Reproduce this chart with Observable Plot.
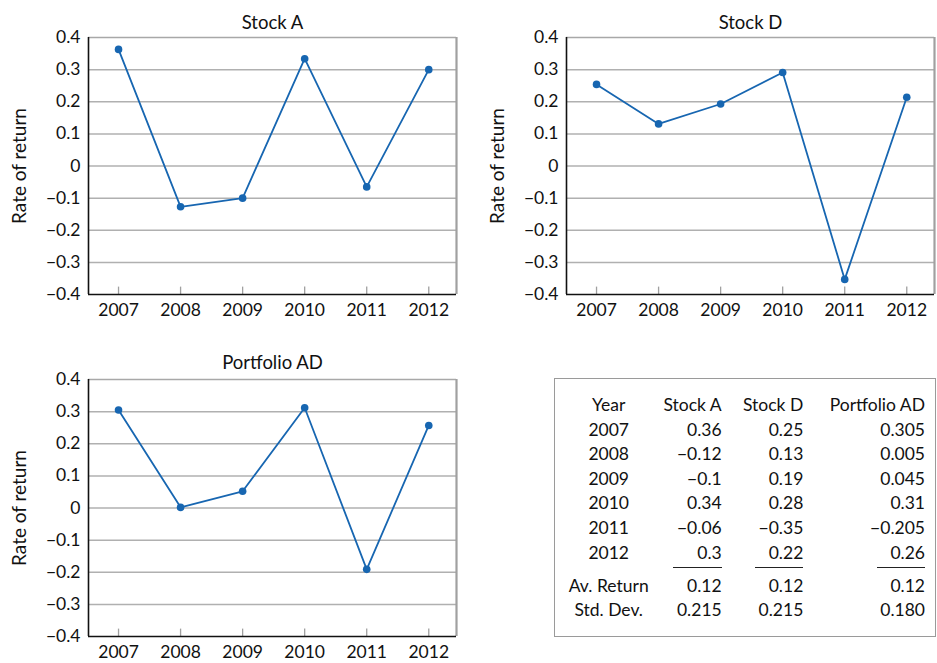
<!DOCTYPE html>
<html>
<head>
<meta charset="utf-8">
<script src="https://cdn.jsdelivr.net/npm/d3@7"></script>
<script src="https://cdn.jsdelivr.net/npm/@observablehq/plot@0.6"></script>
<style>
  html, body { margin: 0; padding: 0; background: #fff; overflow: hidden; }
  #root { position: relative; width: 937px; height: 663px; font-family: Lato, "Open Sans", sans-serif; color: #111; }
  .chart { position: absolute; }
  .cell { position: absolute; font-size: 17.5px; white-space: nowrap; line-height: 1; }
  .c { transform: translate(-50%, -50%); }
  .r { transform: translate(-100%, -50%); }
  .rule { position: absolute; height: 0; border-top: 1.3px solid #222; }
  #box { position: absolute; border: 1.5px solid #9a9a9a; box-sizing: border-box; }
</style>
</head>
<body>
<div id="root"></div>
<script>
// ---- data ----
const years = [2007, 2008, 2009, 2010, 2011, 2012];
const stockA = [0.363, -0.127, -0.100, 0.334, -0.065, 0.300];
const stockD = [0.254, 0.131, 0.193, 0.291, -0.353, 0.214];
const portfolioAD = [0.305, 0.002, 0.052, 0.312, -0.191, 0.257];
const yTicks = [-0.4, -0.3, -0.2, -0.1, 0, 0.1, 0.2, 0.3, 0.4];
const gridTicks = [-0.3, -0.2, -0.1, 0, 0.1, 0.2, 0.3];
const yLabel = "Rate of return";

const tableHeader = ["Year", "Stock A", "Stock D", "Portfolio AD"];
const tableYears = ["2007", "2008", "2009", "2010", "2011", "2012"];
const colA = ["0.36", "−0.12", "−0.1", "0.34", "−0.06", "0.3"];
const colD = ["0.25", "0.13", "0.19", "0.28", "−0.35", "0.22"];
const colP = ["0.305", "0.005", "0.045", "0.31", "−0.205", "0.26"];
const avReturn = ["Av. Return", "0.12", "0.12", "0.12"];
const stdDev = ["Std. Dev.", "0.215", "0.215", "0.180"];

const root = document.getElementById("root");
const blue = "#1766b1";
const xDomain = [2006.516, 2012.447];

function chart(title, values, left, top, titleDy) {
  const data = years.map((y, i) => ({year: y, value: values[i]}));
  const svg = Plot.plot({
    width: 470,
    height: 330,
    marginLeft: 88,
    marginRight: 14,
    marginTop: 37,
    marginBottom: 36,
    style: {fontFamily: "Lato, 'Open Sans', sans-serif", fontSize: "17.5px", color: "#111", background: "transparent"},
    x: {domain: xDomain, axis: null},
    y: {domain: [-0.4, 0.4], axis: null},
    marks: [
      Plot.ruleY(gridTicks, {stroke: "#b0b0b0", strokeWidth: 1.5}),
      Plot.ruleY([0.4], {stroke: "#a8a8a8", strokeWidth: 1.5}),
      Plot.ruleX([xDomain[1]], {stroke: "#a0a0a0", strokeWidth: 2.2}),
      Plot.ruleX(years, {y1: -0.4, y2: -0.377, stroke: "#a0a0a0", strokeWidth: 1.3}),
      Plot.ruleY([-0.4], {stroke: "#111", strokeWidth: 1.6}),
      Plot.ruleX([xDomain[0]], {stroke: "#111", strokeWidth: 1.6}),
      Plot.axisY({ticks: yTicks, tickSize: 0, tickPadding: 8, tickFormat: d => d === 0 ? "0" : d3.format(".1f")(d).replace("-", "−"), label: null, fontSize: 17.5}),
      Plot.axisX({ticks: years, tickSize: 0, tickPadding: 9, tickFormat: d => String(d), label: null, fontSize: 17.5}),
      Plot.text([yLabel], {frameAnchor: "left", textAnchor: "middle", rotate: -90, dx: -69, fontSize: 19}),
      Plot.line(data, {x: "year", y: "value", stroke: blue, strokeWidth: 1.8}),
      Plot.dot(data, {x: "year", y: "value", fill: blue, r: 3.8}),
      Plot.text([title], {frameAnchor: "top", dy: titleDy, fontSize: 18.5})
    ]
  });
  svg.classList.add("chart");
  svg.style.left = left + "px";
  svg.style.top = top + "px";
  svg.style.position = "absolute";
  root.appendChild(svg);
}

chart("Stock A", stockA, 0, 0, -22);
chart("Stock D", stockD, 478, 0, -22);
chart("Portfolio AD", portfolioAD, 0, 342, -24);

// ---- table ----
const box = document.createElement("div");
box.id = "box";
Object.assign(box.style, {left: "554px", top: "378px", width: "382px", height: "259px"});
root.appendChild(box);

function cell(text, x, y, cls) {
  const d = document.createElement("div");
  d.className = "cell " + cls;
  d.textContent = text;
  d.style.left = x + "px";
  d.style.top = y + "px";
  root.appendChild(d);
}
const colX = [608.7, 721.7, 803.3, 925];
const rowY = [405, 429.5, 454, 478.5, 503, 527.7, 552.5];
tableHeader.forEach((t, j) => cell(t, colX[j], rowY[0], j === 0 ? "c" : "r"));
tableYears.forEach((t, i) => {
  cell(t, colX[0], rowY[i + 1], "c");
  cell(colA[i], colX[1], rowY[i + 1], "r");
  cell(colD[i], colX[2], rowY[i + 1], "r");
  cell(colP[i], colX[3], rowY[i + 1], "r");
});
[[673.3, 721.7], [755, 803.3], [877.3, 925]].forEach(([a, b]) => {
  const r = document.createElement("div");
  r.className = "rule";
  Object.assign(r.style, {left: a + "px", top: "567px", width: (b - a) + "px"});
  root.appendChild(r);
});
avReturn.forEach((t, j) => cell(t, colX[j], 586, j === 0 ? "c" : "r"));
stdDev.forEach((t, j) => cell(t, colX[j], 610, j === 0 ? "c" : "r"));
</script>
</body>
</html>
